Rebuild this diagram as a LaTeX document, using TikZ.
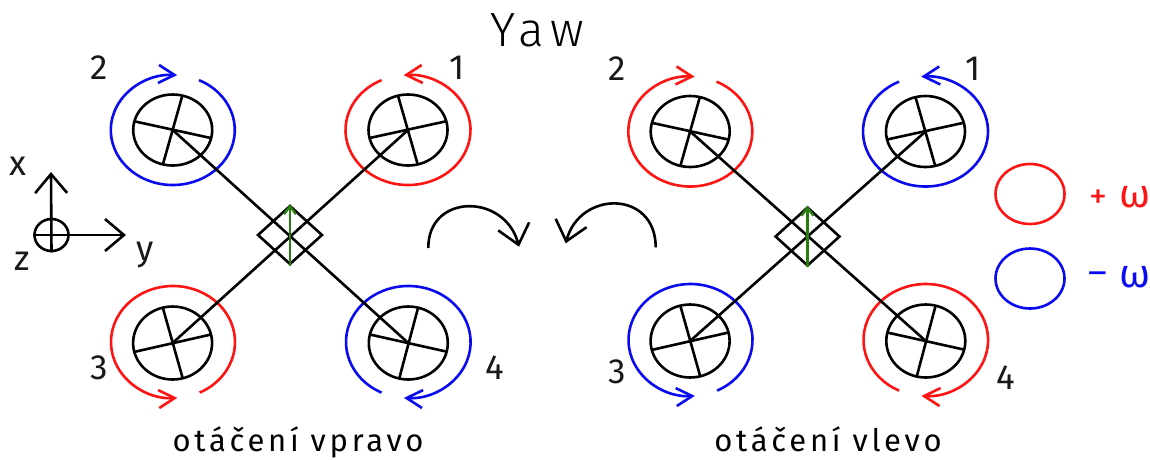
\documentclass[tikz,border=0pt]{standalone}
\usepackage{fontspec}
\setmainfont{Fira Sans Light}
\usetikzlibrary{arrows.meta,calc,shapes.geometric}
\definecolor{rd}{RGB}{255,20,20}
\definecolor{bl}{RGB}{10,10,240}
\definecolor{gn}{RGB}{40,125,15}
\newfontfamily\trk[LetterSpace=14]{Fira Sans Light}
\newfontfamily\trkc[LetterSpace=12]{Fira Sans}
\newfontfamily\omg{Fira Sans}
\tikzset{
 x=1pt,y=-1pt,
 hub/.style={ellipse,draw=black,line width=2.6pt,minimum width=79pt,minimum height=71pt,inner sep=0pt},
 blk/.style={draw=black,line width=2.6pt},
 ringarrow/.style={line width=2.6pt,-{Straight Barb[length=16pt,width=18pt,line width=2.6pt]}},
 bigarrow/.style={blk,-{Straight Barb[length=19pt,width=32pt,line width=2.6pt]}},
 num/.style={font=\omg\fontsize{35}{35}\selectfont,inner sep=0pt,text=black!90},
 captext/.style={font=\trkc\fontsize{31}{31}\selectfont,inner sep=0pt,anchor=base},
 leg/.style={draw,line width=2.6pt,ellipse,minimum width=69pt,minimum height=60pt,inner sep=0pt},
 omeg/.style={font=\omg\fontsize{40}{40}\selectfont,inner sep=0pt},
 pm/.style={font=\omg\fontsize{36}{36}\selectfont,inner sep=0pt},
}
% prefix, dx, dy of the top part, dy of the bottom row, colour of rotors 2/4, colour of rotors 1/3
\newcommand{\drone}[6]{%
 \begin{scope}[shift={(#2,#3)}]
 \node[hub] (#1two) at (172.7,130) {};
 \node[hub] (#1one) at (408,130) {};
 \coordinate (#1twoc) at (172.7,130);
 \coordinate (#1onec) at (408,130);
 \draw[blk] (182.3,95.7) -- (163,164) (134.3,121.3) -- (210.7,138);
 \draw[blk] (398,95.7) -- (417.6,164) (446,121.3) -- (369.6,138);
 \draw[ringarrow,draw=#5] ($(172.8,130)+(-65:62 and 55)$) arc[start angle=-65,end angle=274,x radius=62,y radius=55];
 \draw[ringarrow,draw=#6] ($(408,130)+(245:62.5 and 55)$) arc[start angle=245,end angle=-94,x radius=62.5,y radius=55];
 \node[diamond,draw=black,line width=2.6pt,minimum width=65pt,minimum height=59pt,inner sep=0pt] (#1body) at (290,235) {};
 \end{scope}
 \begin{scope}[shift={(#2,#4)}]
 \node[hub,minimum height=73pt] (#1three) at (172.6,343) {};
 \node[hub,minimum height=73pt] (#1four) at (408.3,343) {};
 \coordinate (#1threec) at (172.6,343);
 \coordinate (#1fourc) at (408.3,343);
 \draw[blk] (162.8,307.6) -- (182.8,378.6) (135.2,351.7) -- (211,334.5);
 \draw[blk] (418,308) -- (399,379.3) (369.7,334.5) -- (447,351.7);
 \draw[ringarrow,draw=#6] ($(173,342)+(64.6:62 and 56)$) arc[start angle=64.6,end angle=-274,x radius=62,y radius=56];
 \draw[ringarrow,draw=#5] ($(408.3,342)+(115.4:62.3 and 56)$) arc[start angle=115.4,end angle=454,x radius=62.3,y radius=56];
 \end{scope}
 \draw[blk] (#1twoc) -- (#1fourc);
 \draw[blk] (#1onec) -- (#1threec);
 \draw[draw=gn,line width=2.8pt,-{Straight Barb[length=8pt,width=12pt,line width=2.4pt]}] (#1body.south) -- (#1body.north);
}
\begin{document}
\begin{tikzpicture}
\useasboundingbox (0,0) rectangle (1150,459);
\drone{a}{0}{0}{0}{bl}{rd}
\drone{b}{517.5}{1.5}{-2}{rd}{bl}
% title
\node[font=\trk\fontsize{48}{48}\selectfont,inner sep=0pt,anchor=base] (title) at (537,46) {Yaw};
% numbers
\node[num] (n2) at (99,68) {2};
\node[num] (n1) at (457,68) {1};
\node[num] (n3) at (99,368) {3};
\node[num] (n4) at (495,368) {4};
\node[num] (m2) at (617,69) {2};
\node[num] (m1) at (973,69) {1};
\node[num] (m3) at (617,372) {3};
\node[num] (m4) at (1006,378) {4};
% axes
\node[ellipse,draw=black,line width=2.6pt,minimum width=34pt,minimum height=32pt,inner sep=0pt] (axis) at (51.5,235) {};
\coordinate (xtip) at (51,172);
\coordinate (ytip) at (126,235);
\draw[bigarrow] (axis.south) -- (xtip);
\draw[bigarrow] (axis.west) -- (ytip);
\node[num] (xl) at (18,166) {x};
\node[num] (yl) at (145,255) {y};
\node[num] (zl) at (22,261) {z};
% turning arrows
\coordinate (ls) at (428.3,248); \coordinate (le) at (519,246.7);
\coordinate (rs) at (655.7,247.3); \coordinate (re) at (565.7,243.3);
\draw[bigarrow] (ls) .. controls (428,193) and (505,193) .. (le);
\draw[bigarrow] (rs) .. controls (655.7,190) and (580,190) .. (re);
% captions
\node[captext] (c1) at (298,451.5) {otáčení vpravo};
\node[captext] (c2) at (828,451.5) {otáčení vlevo};
% legend
\node[leg,draw=rd] (lr) at (1030,194) {};
\node[leg,draw=bl] (lb) at (1030,278.5) {};
\node[pm,text=rd] (pp) at (1098,199) {+};
\node[pm,text=bl] (pn) at (1098,278) {–};
\node[omeg,text=rd] (o1) at (1135,197) {ω};
\node[omeg,text=bl] (o2) at (1135,277) {ω};
\end{tikzpicture}
\end{document}
